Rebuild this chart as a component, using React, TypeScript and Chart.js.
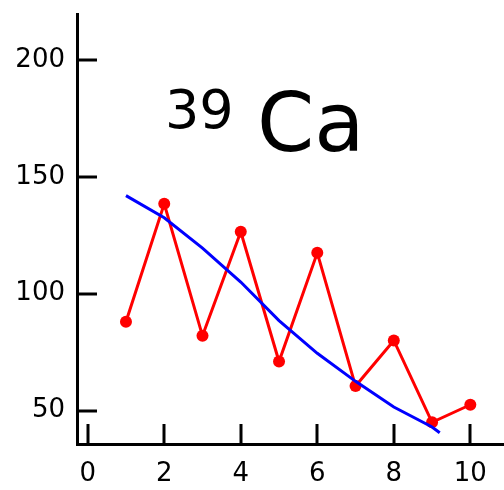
import React, { useEffect, useRef } from "react";
import { Chart, registerables } from "chart.js";

Chart.register(...registerables);

const xValues = [1, 2, 3, 4, 5, 6, 7, 8, 9, 10];
const measured = [88, 138.5, 82, 126.5, 71, 117.5, 60.5, 80, 45, 52.5];
const fitX = [1, 2, 3, 4, 5, 6, 7, 8, 9, 9.2];
const fitY = [142, 132.5, 119.5, 105, 88.5, 74.5, 62.5, 51.5, 43, 40.5];
const xTicks = [0, 2, 4, 6, 8, 10];
const yTicks = [50, 100, 150, 200];
const titleMass = "39";
const titleElement = "Ca";

const FONT = "'DejaVu Sans', sans-serif";

const innerTicks = {
  id: "innerTicks",
  afterDatasetsDraw(chart: any) {
    const { ctx, chartArea, scales } = chart;
    const xs = scales.x;
    const ys = scales.y;
    ctx.save();
    ctx.strokeStyle = "#000";
    ctx.lineWidth = 3;
    ctx.lineCap = "butt";
    for (const v of xTicks) {
      const px = Math.round(xs.getPixelForValue(v));
      ctx.beginPath();
      ctx.moveTo(px, chartArea.bottom);
      ctx.lineTo(px, chartArea.bottom - 20);
      ctx.stroke();
    }
    for (const v of yTicks) {
      const py = Math.round(ys.getPixelForValue(v));
      ctx.beginPath();
      ctx.moveTo(chartArea.left, py);
      ctx.lineTo(chartArea.left + 20, py);
      ctx.stroke();
    }
    // title
    ctx.fillStyle = "#000";
    ctx.textBaseline = "alphabetic";
    ctx.textAlign = "left";
    ctx.font = `54px ${FONT}`;
    ctx.fillText(titleMass, chartArea.left + 88, 128);
    ctx.font = `82px ${FONT}`;
    ctx.fillText(titleElement, chartArea.left + 180, 151);
    ctx.restore();
  },
};

export default function App() {
  const ref = useRef<HTMLCanvasElement>(null);
  useEffect(() => {
    const canvas = ref.current;
    if (!canvas) return;
    const chart = new Chart(canvas, {
      type: "line",
      data: {
        datasets: [
          {
            data: measured.map((y, i) => ({ x: xValues[i], y })),
            borderColor: "#ff0000",
            backgroundColor: "#ff0000",
            borderWidth: 3,
            pointRadius: 6,
            pointBorderWidth: 0,
            pointBackgroundColor: "#ff0000",
            tension: 0,
            order: 1,
            clip: false as any,
          },
          {
            data: fitY.map((y, i) => ({ x: fitX[i], y })),
            borderColor: "#0000ff",
            borderWidth: 3,
            pointRadius: 0,
            tension: 0,
            order: 0,
          },
        ],
      },
      options: {
        responsive: false,
        animation: false,
        layout: { autoPadding: false, padding: { top: 14, right: 0, left: 0, bottom: 0 } },
        plugins: { legend: { display: false }, tooltip: { enabled: false }, title: { display: false } },
        scales: {
          x: {
            type: "linear",
            min: -0.28,
            max: 10.88,
            grid: { display: false, drawTicks: false },
            border: { display: true, color: "#000", width: 3 },
            ticks: { color: "#000", font: { family: FONT, size: 26 }, padding: 15, autoSkip: false, maxRotation: 0 },
            afterBuildTicks: (s: any) => {
              s.ticks = xTicks.map((v) => ({ value: v }));
            },
            afterFit: (s: any) => {
              s.height = 46;
              s.paddingLeft = 0;
              s.paddingRight = 0;
            },
          },
          y: {
            type: "linear",
            min: 35.7,
            max: 219.7,
            grid: { display: false, drawTicks: false },
            border: { display: true, color: "#000", width: 3 },
            ticks: { color: "#000", font: { family: FONT, size: 26 }, padding: 12, autoSkip: false },
            afterBuildTicks: (s: any) => {
              s.ticks = yTicks.map((v) => ({ value: v }));
            },
            afterFit: (s: any) => {
              s.width = 77;
              s.paddingTop = 0;
              s.paddingBottom = 0;
            },
          },
        },
      },
      plugins: [innerTicks],
    });
    return () => chart.destroy();
  }, []);
  return (
    <div style={{ position: "absolute", left: 0, top: 0, width: 504, height: 490, background: "#fff" }}>
      <canvas ref={ref} width={504} height={490} style={{ display: "block" }} />
    </div>
  );
}
